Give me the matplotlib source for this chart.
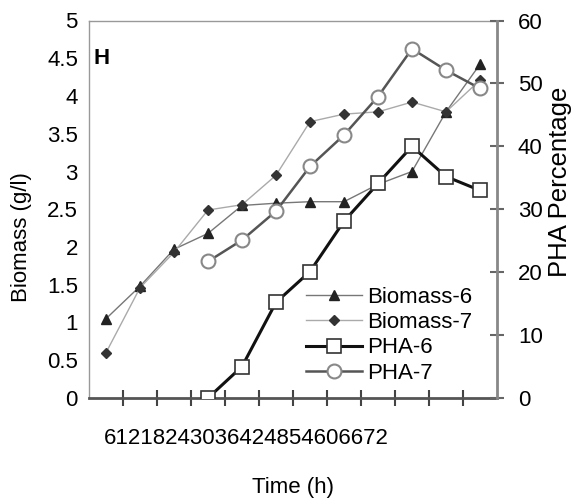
import matplotlib
matplotlib.use("Agg")
import matplotlib.pyplot as plt
import numpy as np

plt.rcParams['font.family'] = ['Liberation Sans', 'DejaVu Sans']

time_labels = ["6", "12", "18", "24", "30", "36", "42", "48", "54", "60", "66", "72"]
biomass6 = [1.05, 1.48, 1.97, 2.18, 2.55, 2.58, 2.60, 2.60, 2.83, 3.00, 3.79, 4.42]
biomass7 = [0.60, 1.46, 1.93, 2.49, 2.56, 2.95, 3.66, 3.76, 3.79, 3.92, 3.79, 4.21]
pha_start = 3
pha6 = [0.0, 5.0, 15.2, 20.1, 28.1, 34.1, 40.0, 35.2, 33.0]
pha7 = [21.7, 25.1, 29.7, 36.8, 41.8, 47.9, 55.5, 52.1, 49.2]

W, H = 574, 504
fig = plt.figure(figsize=(W / 100, H / 100), dpi=100)
ax = fig.add_axes([89 / W, (H - 398) / H, (497 - 89) / W, (398 - 20.5) / H])
ax2 = ax.twinx()

x = np.arange(len(time_labels))
xp = np.arange(pha_start, pha_start + len(pha6))

l1, = ax.plot(x, biomass6, color='#777777', lw=1.0, marker='^', ms=7,
              mfc='#222222', mec='#222222', label='Biomass-6', zorder=3)
l2, = ax.plot(x, biomass7, color='#aaaaaa', lw=1.0, marker='D', ms=5,
              mfc='#333333', mec='#333333', label='Biomass-7', zorder=3)
l3, = ax2.plot(xp, pha6, color='#111111', lw=2.2, marker='s', ms=9.5,
               mfc='white', mec='#333333', mew=1.2, label='PHA-6', zorder=3)
l4, = ax2.plot(xp, pha7, color='#555555', lw=1.8, marker='o', ms=10,
               mfc='white', mec='#888888', mew=1.5, label='PHA-7', zorder=3)

ax.set_xlim(-0.5, len(time_labels) - 0.5)
ax.set_ylim(0, 5)
ax2.set_ylim(0, 60)

ax.set_yticks(np.arange(0, 5.01, 0.5))
ax.set_yticklabels(['0', '0.5', '1', '1.5', '2', '2.5', '3', '3.5', '4', '4.5', '5'])
ax.tick_params(axis='y', length=0, pad=8, labelsize=16)
ax2.set_yticks(np.arange(0, 61, 10))
ax2.tick_params(axis='y', direction='inout', length=10, width=1.5, color='#666666',
                pad=10, labelsize=16)

ax.set_xticks(np.arange(0.5, len(time_labels) - 0.5, 1.0))
ax.set_xticklabels([])
ax.tick_params(axis='x', direction='inout', length=11, width=1.5, color='#444444')

for s in ['top', 'left']:
    ax.spines[s].set_color('#999999')
    ax.spines[s].set_linewidth(1.0)
ax.spines['bottom'].set_color('#555555')
ax.spines['bottom'].set_linewidth(2.0)
ax.spines['right'].set_visible(False)
for s in ['top', 'left', 'bottom']:
    ax2.spines[s].set_visible(False)
ax2.spines['right'].set_color('#888888')
ax2.spines['right'].set_linewidth(2.0)

ax.text(0.012, 0.9, 'H', transform=ax.transAxes, fontsize=16, fontweight='bold',
        ha='left', va='center')

fig.text(246 / W, 1 - 439 / H, "".join(time_labels), fontsize=16, ha='center', va='center')
fig.text(293 / W, 1 - 488 / H, 'Time (h)', fontsize=16, ha='center', va='center')
fig.text(22 / W, 1 - 237 / H, 'Biomass (g/l)', fontsize=16, rotation=90, ha='center', va='center')
fig.text(560 / W, 1 - 182 / H, 'PHA Percentage', fontsize=18.5, rotation=90, ha='center', va='center')

leg = ax2.legend(handles=[l1, l2, l3, l4], loc='upper left',
                 bbox_to_anchor=(306 / W, 1 - 287 / H), bbox_transform=fig.transFigure,
                 frameon=False, fontsize=16, handlelength=2.5, handletextpad=0.25,
                 labelspacing=0.19, borderpad=0, borderaxespad=0)

fig.savefig('out.png', dpi=100)
